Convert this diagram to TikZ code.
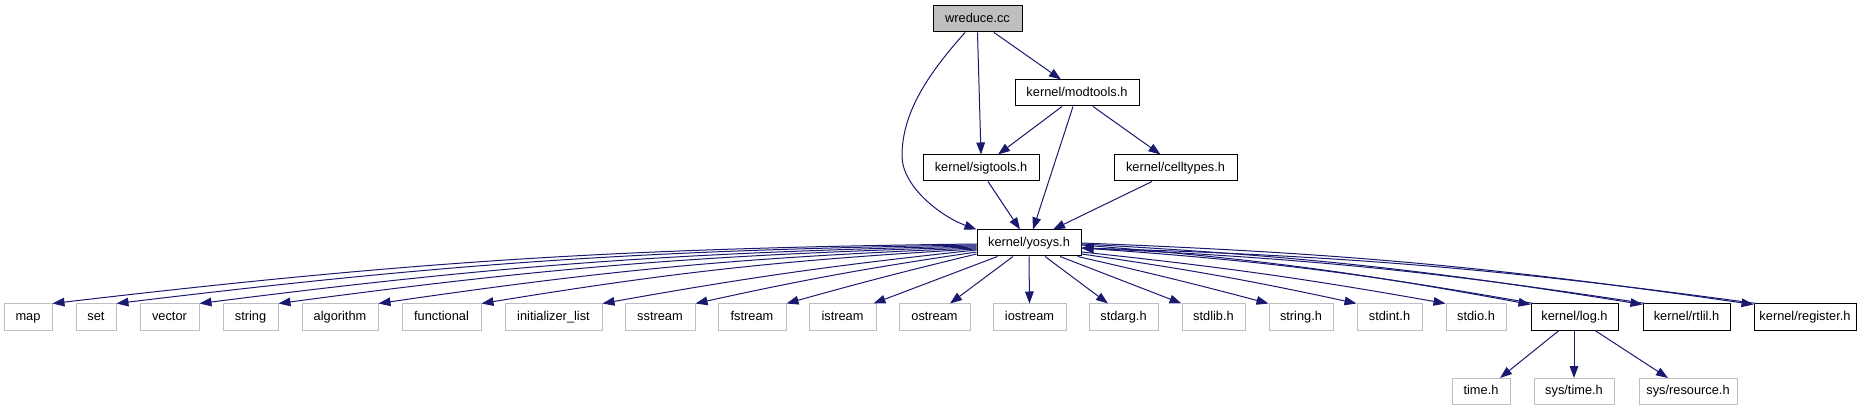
\documentclass[tikz,border=0pt]{standalone}
\usepackage{fontspec}
\setmainfont{Liberation Sans}
\usetikzlibrary{arrows.meta,calc}
\definecolor{navy}{HTML}{191970}
\definecolor{gborder}{HTML}{BFBFBF}
\definecolor{gfill}{HTML}{BFBFBF}
\begin{document}
\begin{tikzpicture}[x=0.75pt,y=0.75pt,
  bw/.style={minimum width=#1*0.75pt},
  base/.style={rectangle, inner sep=0pt, minimum height=26*0.75pt, line width=0.75pt,
     font=\fontsize{9.6pt}{11pt}\selectfont, text height=7pt, text depth=2pt},
  nb/.style={base, draw=black},
  gb/.style={base, draw=gborder},
  dep/.style={draw=navy, line width=0.75pt, -{Triangle[length=9pt,width=6.5pt]}}]
\useasboundingbox (0,0) rectangle (1875,411);
% nodes
\node[nb, fill=gfill, bw=89] (wreduce) at (977.5,392) {wreduce.cc};
\node[nb, bw=124] (modtools) at (1077,318) {kernel/modtools.h};
\node[nb, bw=116] (sigtools) at (981,243) {kernel/sigtools.h};
\node[nb, bw=123] (celltypes) at (1175.5,243) {kernel/celltypes.h};
\node[nb, bw=104] (yosys) at (1029,168) {kernel/yosys.h};
% row 2
\node[gb, bw=48] (map) at (28,94) {map};
\node[gb, bw=40] (set) at (96,94) {set};
\node[gb, bw=59] (vector) at (169.5,94) {vector};
\node[gb, bw=55] (string) at (250.5,94) {string};
\node[gb, bw=76] (algorithm) at (340,94) {algorithm};
\node[gb, bw=79] (functional) at (441.5,94) {functional};
\node[gb, bw=97] (initlist) at (553.5,94) {initializer\_list};
\node[gb, bw=70] (sstream) at (660,94) {sstream};
\node[gb, bw=68] (fstream) at (752,94) {fstream};
\node[gb, bw=67] (istream) at (842.5,94) {istream};
\node[gb, bw=71] (ostream) at (934.5,94) {ostream};
\node[gb, bw=73] (iostream) at (1029.5,94) {iostream};
\node[gb, bw=69] (stdarg) at (1123.5,94) {stdarg.h};
\node[gb, bw=63] (stdlib) at (1213.5,94) {stdlib.h};
\node[gb, bw=64] (stringh) at (1301,94) {string.h};
\node[gb, bw=65] (stdint) at (1389.5,94) {stdint.h};
\node[gb, bw=60] (stdio) at (1476,94) {stdio.h};
\node[nb, bw=87] (log) at (1574.5,94) {kernel/log.h};
\node[nb, bw=87] (rtlil) at (1686.5,94) {kernel/rtlil.h};
\node[nb, bw=102] (register) at (1805,94) {kernel/register.h};
% row 3
\node[gb, bw=58] (time) at (1481,19.5) {time.h};
\node[gb, bw=80] (systime) at (1574,19.5) {sys/time.h};
\node[gb, bw=98] (sysres) at (1688,19.5) {sys/resource.h};
% top edges
\draw[dep] ($(wreduce.south)+(-12.5,0)$) .. controls (930,339) and (902,300) .. (902,255)
   .. controls (902,225) and (940,195) .. (yosys.north west);
\draw[dep] (wreduce.south) -- (sigtools.north);
\draw[dep] ($(wreduce.south)+(16.5,0)$) -- ($(modtools.north)+(-16,0)$);
\draw[dep] ($(modtools.south)+(-15,0)$) -- ($(sigtools.north)+(17,0)$);
\draw[dep] ($(modtools.south)+(-4,0)$) -- ($(yosys.north)+(4,0)$);
\draw[dep] ($(modtools.south)+(16,0)$) -- ($(celltypes.north)+(-15,0)$);
\draw[dep] ($(sigtools.south)+(7,0)$) -- ($(yosys.north)+(-9,0)$);
\draw[dep] ($(celltypes.south)+(-23.5,0)$) -- ($(yosys.north)+(24,0)$);
% left edges
\draw[dep] ($(yosys.west)+(0,-1)$) to[bend right=3] (map.north east);
\draw[dep] ($(yosys.west)+(0,-2)$) to[bend right=3] (set.north east);
\draw[dep] ($(yosys.west)+(0,-3)$) to[bend right=3] (vector.north east);
\draw[dep] ($(yosys.west)+(0,-4)$) to[bend right=3] (string.north east);
\draw[dep] ($(yosys.west)+(0,-5)$) to[bend right=3] (algorithm.north east);
\draw[dep] ($(yosys.west)+(0,-6)$) to[bend right=3] (functional.north east);
\draw[dep] ($(yosys.west)+(0,-7)$) to[bend right=2] (initlist.north east);
\draw[dep] ($(yosys.west)+(0,-9)$) to[bend right=2] (sstream.north east);
\draw[dep] ($(yosys.west)+(0,-11)$) to[bend right=1] (fstream.north east);
\draw[dep] ($(yosys.south west)+(21,0)$) -- ($(istream.north east)+(-3,0)$);
\draw[dep] ($(yosys.south)+(-16,0)$) -- ($(ostream.north)+(15.5,0)$);
\draw[dep] (yosys.south) -- (iostream.north);
\draw[dep] ($(yosys.south)+(16,0)$) -- ($(stdarg.north)+(-15.5,0)$);
\draw[dep] ($(yosys.south)+(31,0)$) -- (stdlib.north west);
\draw[dep] ($(yosys.south east)+(-4,0)$) to[bend left=1] (stringh.north west);
\draw[dep] ($(yosys.east)+(0,-11)$) to[bend left=2] (stdint.north west);
\draw[dep] ($(yosys.east)+(0,-9)$) to[bend left=2] (stdio.north west);
\draw[dep] ($(yosys.east)+(0,-2)$) to[bend left=3] ($(log.north west)+(0,-1)$);
\draw[dep] ($(yosys.east)+(0,-1)$) to[bend left=3] ($(rtlil.north west)+(0,-1)$);
\draw[dep] ($(yosys.east)+(0,0)$) to[bend left=3] ($(register.north west)+(0,-1)$);
% return edges
\draw[dep] ($(log.north west)+(3,0)$) to[bend right=3] ($(yosys.east)+(0,-5)$);
\draw[dep] ($(rtlil.north west)+(3,0)$) to[bend right=3] ($(yosys.east)+(0,-5)$);
\draw[dep] ($(register.north west)+(3,0)$) to[bend right=3] ($(yosys.east)+(0,-5)$);
% log.h children
\draw[dep] ($(log.south)+(-15.5,0)$) -- ($(time.north)+(19,0)$);
\draw[dep] ($(log.south)+(-0.5,0)$) -- (systime.north);
\draw[dep] ($(log.south)+(20.5,0)$) -- ($(sysres.north)+(-20,0)$);
\end{tikzpicture}
\end{document}
